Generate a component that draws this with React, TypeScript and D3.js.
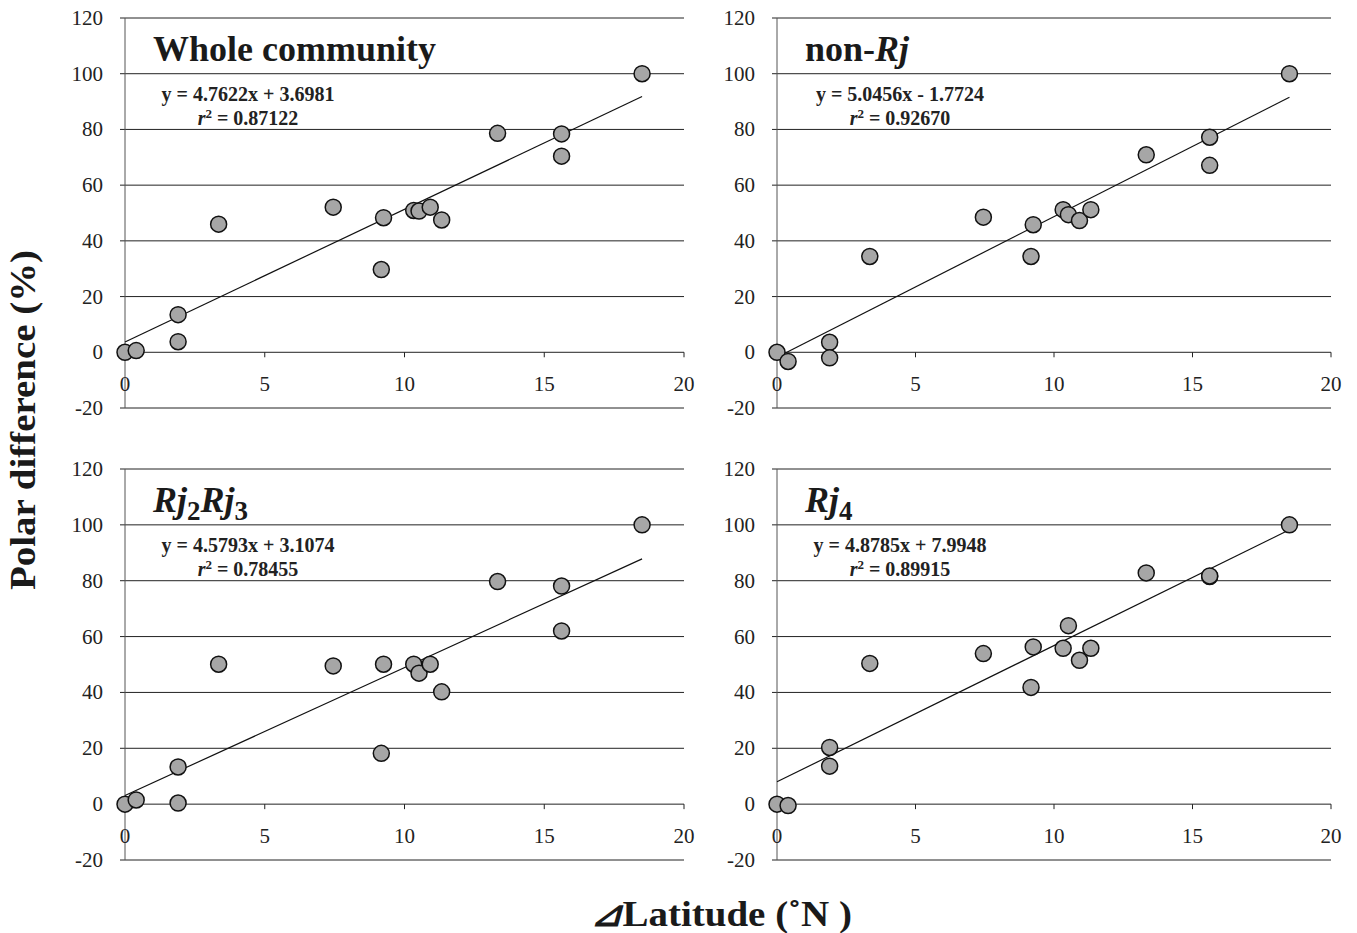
import * as d3 from 'd3';

// shared latitude differences (°N)
const latDiff = [0, 0.4, 1.9, 1.9, 3.35, 7.45, 9.17, 9.25, 10.33, 10.52, 10.92, 11.33, 13.33, 15.62, 15.62, 18.5];

const wholeCommunity = [0, 0.6, 13.5, 3.8, 46, 52.1, 29.7, 48.3, 50.9, 50.7, 52.1, 47.5, 78.6, 78.4, 70.4, 100];
const nonRj = [0, -3.3, 3.6, -2.0, 34.4, 48.5, 34.4, 45.8, 51.2, 49.4, 47.3, 51.2, 70.9, 77.2, 67.1, 100];
const rj2rj3 = [0, 1.5, 13.3, 0.4, 50.1, 49.5, 18.2, 50.1, 50.1, 46.9, 50.1, 40.2, 79.7, 78.1, 62.0, 100];
const rj4 = [0, -0.5, 20.3, 13.6, 50.4, 53.9, 41.8, 56.3, 55.8, 63.9, 51.5, 55.8, 82.8, 81.5, 81.7, 100];

const slopes = [4.7622, 5.0456, 4.5793, 4.8785];
const intercepts = [3.6981, -1.7724, 3.1074, 7.9948];
const eqLabels = ['y = 4.7622x + 3.6981', 'y = 5.0456x - 1.7724', 'y = 4.5793x + 3.1074', 'y = 4.8785x + 7.9948'];
const r2Labels = ['0.87122', '0.92670', '0.78455', '0.89915'];

const xTicks = [0, 5, 10, 15, 20];
const yTicks = [-20, 0, 20, 40, 60, 80, 100, 120];

const serif = 'Liberation Serif';

const panels = [
  { values: wholeCommunity, left: 125, right: 684, top: 18, bottom: 408 },
  { values: nonRj, left: 777, right: 1331, top: 18, bottom: 408 },
  { values: rj2rj3, left: 125, right: 684, top: 469, bottom: 860 },
  { values: rj4, left: 777, right: 1331, top: 469, bottom: 860 },
];

function Title({ i, x, y }: { i: number; x: number; y: number }) {
  const common = { x, y, fontFamily: serif, fontWeight: 'bold', fontSize: 36, fill: '#1a1a1a' };
  if (i === 0) return <text {...common}>Whole community</text>;
  if (i === 1)
    return (
      <text {...common}>
        non-<tspan fontStyle="italic">Rj</tspan>
      </text>
    );
  if (i === 2)
    return (
      <text {...common}>
        <tspan fontStyle="italic">Rj</tspan>
        <tspan fontSize={27} dy={8}>2</tspan>
        <tspan fontStyle="italic" dy={-8}>Rj</tspan>
        <tspan fontSize={27} dy={8}>3</tspan>
      </text>
    );
  return (
    <text {...common}>
      <tspan fontStyle="italic">Rj</tspan>
      <tspan fontSize={27} dy={8}>4</tspan>
    </text>
  );
}

function Panel({ i }: { i: number }) {
  const p = panels[i];
  const x = d3.scaleLinear().domain([0, 20]).range([p.left, p.right]);
  const y = d3.scaleLinear().domain([-20, 120]).range([p.bottom, p.top]);
  const fit = d3
    .line<number>()
    .x((d) => x(d))
    .y((d) => y(slopes[i] * d + intercepts[i]));
  const eqCx = p.left + 123;
  return (
    <g>
      {yTicks.map((t) => (
        <line key={'g' + t} x1={p.left - 5} x2={p.right} y1={y(t)} y2={y(t)} stroke="#222" strokeWidth={1} />
      ))}
      <line x1={p.left} x2={p.left} y1={y(120)} y2={y(-20)} stroke="#555" strokeWidth={1} />
      {xTicks.map((t) => (
        <line key={'t' + t} x1={x(t)} x2={x(t)} y1={y(0)} y2={y(0) + 5} stroke="#222" strokeWidth={1} />
      ))}
      {yTicks.map((t) => (
        <text key={'yl' + t} x={p.left - 22} y={y(t) + 7} textAnchor="end" fontFamily={serif} fontSize={21} fill="#222">
          {t}
        </text>
      ))}
      {xTicks.map((t) => (
        <text key={'xl' + t} x={x(t)} y={y(0) + 39} textAnchor="middle" fontFamily={serif} fontSize={21} fill="#222">
          {t}
        </text>
      ))}
      <Title i={i} x={p.left + 28} y={p.top + 43} />
      <text x={eqCx} y={y(100) + 27} textAnchor="middle" fontFamily={serif} fontWeight="bold" fontSize={20} fill="#222">
        {eqLabels[i]}
      </text>
      <text x={eqCx} y={y(100) + 51} textAnchor="middle" fontFamily={serif} fontWeight="bold" fontSize={20} fill="#222">
        <tspan fontStyle="italic">r</tspan>
        <tspan fontSize={13} dy={-7}>2</tspan>
        <tspan dy={7}>{' = ' + r2Labels[i]}</tspan>
      </text>
      <path d={fit([0, 18.5]) ?? ''} fill="none" stroke="#111" strokeWidth={1.2} />
      {p.values.map((v, k) => (
        <circle key={k} cx={x(latDiff[k])} cy={y(v)} r={8} fill="#a6a6a6" stroke="#111" strokeWidth={1.5} />
      ))}
    </g>
  );
}

export default function App() {
  return (
    <svg width={1357} height={933} style={{ position: 'absolute', left: 0, top: 0, background: '#fff' }}>
      {panels.map((_, i) => (
        <Panel key={i} i={i} />
      ))}
      <text
        transform="translate(35,420) rotate(-90)"
        textAnchor="middle"
        fontFamily={serif}
        fontWeight="bold"
        fontSize={36}
        textLength={340}
        lengthAdjust="spacingAndGlyphs"
        fill="#1a1a1a"
      >
        Polar difference (%)
      </text>
      <text
        x={721}
        y={926}
        textAnchor="middle"
        fontFamily={serif}
        fontWeight="bold"
        fontSize={36}
        textLength={262}
        lengthAdjust="spacingAndGlyphs"
        fill="#1a1a1a"
      >
        <tspan fontStyle="italic">⊿</tspan>Latitude (˚N )
      </text>
    </svg>
  );
}
